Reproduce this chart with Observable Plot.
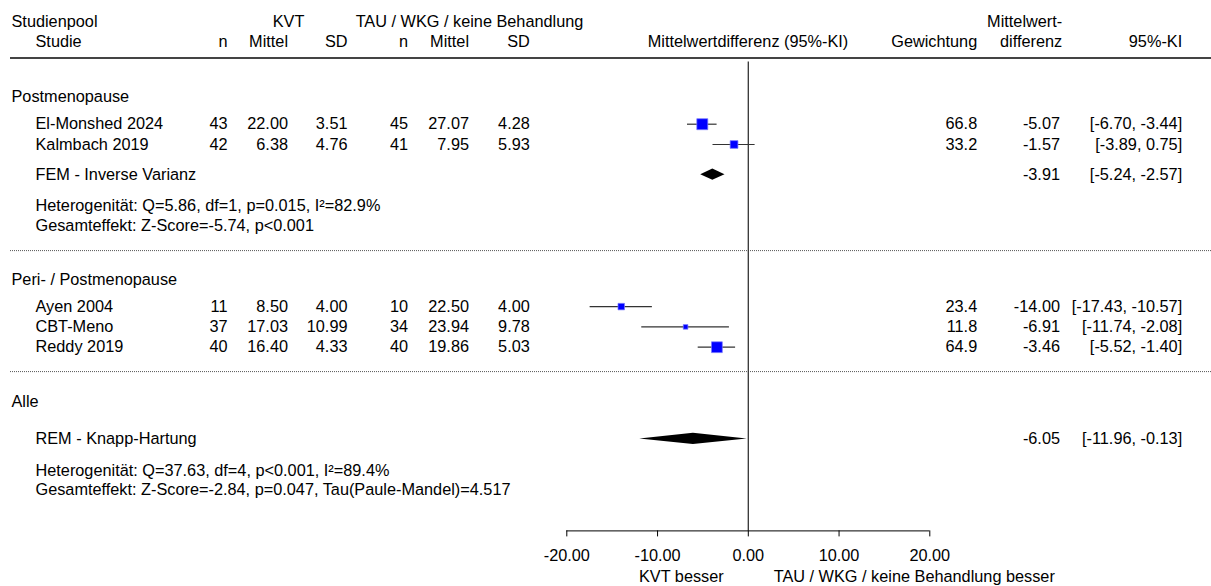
<!DOCTYPE html>
<html><head><meta charset="utf-8">
<script src="https://cdn.jsdelivr.net/npm/d3@7"></script>
<script src="https://cdn.jsdelivr.net/npm/@observablehq/plot@0.6"></script>
<style>html,body{margin:0;padding:0;background:#fff}</style>
</head><body><div id="chart"></div>
<script>
// ---------- data ----------
const groupNames = ["Postmenopause", "Peri- / Postmenopause"];
const studies = ["El-Monshed 2024", "Kalmbach 2019", "Ayen 2004", "CBT-Meno", "Reddy 2019"];
const studyGroup = [0, 0, 1, 1, 1];
const n1 = [43, 42, 11, 37, 40];
const mean1 = [22.00, 6.38, 8.50, 17.03, 16.40];
const sd1 = [3.51, 4.76, 4.00, 10.99, 4.33];
const n2 = [45, 41, 10, 34, 40];
const mean2 = [27.07, 7.95, 22.50, 23.94, 19.86];
const sd2 = [4.28, 5.93, 4.00, 9.78, 5.03];
const weight = [66.8, 33.2, 23.4, 11.8, 64.9];
const md = [-5.07, -1.57, -14.00, -6.91, -3.46];
const ciLow = [-6.70, -3.89, -17.43, -11.74, -5.52];
const ciHigh = [-3.44, 0.75, -10.57, -2.08, -1.40];

const pooledLabels = ["FEM - Inverse Varianz", "REM - Knapp-Hartung"];
const pooledMD = [-3.91, -6.05];
const pooledLow = [-5.24, -11.96];
const pooledHigh = [-2.57, -0.13];
const hetLines = [
  ["Heterogenität: Q=5.86, df=1, p=0.015, I²=82.9%", "Gesamteffekt: Z-Score=-5.74, p<0.001"],
  ["Heterogenität: Q=37.63, df=4, p<0.001, I²=89.4%", "Gesamteffekt: Z-Score=-2.84, p=0.047, Tau(Paule-Mandel)=4.517"]
];
const overallLabel = "Alle";
const xTicks = [-20, -10, 0, 10, 20];
const favourLeft = "KVT besser";
const favourRight = "TAU / WKG / keine Behandlung besser";

// ---------- layout (computed) ----------
const f2 = v => v.toFixed(2);
const rows = [];
const headerY = 57.5;
let cy = 60;
function push(kind, gap, props) { cy += gap; const r = {kind, y: cy, ...props}; rows.push(r); return r; }
groupNames.forEach((g, gi) => {
  push("group", gi === 0 ? 36.7 : 29, {label: g});
  let first = true;
  studies.forEach((s, i) => {
    if (studyGroup[i] !== gi) return;
    push("study", first ? 27 : 20.3, {
      label: s, n1: n1[i], m1: f2(mean1[i]), s1: f2(sd1[i]), n2: n2[i], m2: f2(mean2[i]), s2: f2(sd2[i]),
      w: weight[i], wt: weight[i].toFixed(1), md: md[i], lo: ciLow[i], hi: ciHigh[i],
      mdt: f2(md[i]), ci: `[${f2(ciLow[i])}, ${f2(ciHigh[i])}]`
    });
    first = false;
  });
  if (gi === 0) {
    push("pooled", 30.2, {label: pooledLabels[0], md: pooledMD[0], lo: pooledLow[0], hi: pooledHigh[0],
      mdt: f2(pooledMD[0]), ci: `[${f2(pooledLow[0])}, ${f2(pooledHigh[0])}]`});
    push("het", 31.5, {label: hetLines[0][0]});
    push("het", 20, {label: hetLines[0][1]});
  }
  push("sep", 24.4, {});
});
push("group", 30.5, {label: overallLabel});
push("pooled", 36.8, {label: pooledLabels[1], md: pooledMD[1], lo: pooledLow[1], hi: pooledHigh[1],
  mdt: f2(pooledMD[1]), ci: `[${f2(pooledLow[1])}, ${f2(pooledHigh[1])}]`});
push("het", 31.7, {label: hetLines[1][0]});
push("het", 19.5, {label: hetLines[1][1]});
const axisY = cy + 40.8;

const studyRows = rows.filter(r => r.kind === "study");
const pooledRows = rows.filter(r => r.kind === "pooled");
const sepRows = rows.filter(r => r.kind === "sep");
const groupRows = rows.filter(r => r.kind === "group");
const hetRows = rows.filter(r => r.kind === "het");

const dh = 5.6;
const diamonds = pooledRows.flatMap((r, k) => [
  {id: k, y: r.y - dh, x1: r.md, x2: r.md},
  {id: k, y: r.y, x1: r.lo, x2: r.hi},
  {id: k, y: r.y + dh, x1: r.md, x2: r.md}
]);

const ML = 10;
const FS = 16.3;
const font = "'Liberation Sans', Arial, Helvetica, sans-serif";
function col(data, text, px, anchor, extra = {}) {
  return Plot.text(data, {y: "y", text, frameAnchor: "left", dx: px - ML, textAnchor: anchor,
    fontSize: FS, fill: "#000", ...extra});
}
function head(label, px, y, anchor) {
  return Plot.text([label], {y: () => y, text: d => d, frameAnchor: "left", dx: px - ML,
    textAnchor: anchor, fontSize: FS, fill: "#000"});
}
const r1 = 21.2, r2 = 41.2;
const cN1 = 227, cM1 = 287.5, cS1 = 347, cN2 = 407.5, cM2 = 468.5, cS2 = 529.3;
const cW = 976.7, cMD = 1059.5, cCI = 1181.7;

const chart = Plot.plot({
  width: 1211, height: 586,
  marginLeft: ML, marginRight: 0, marginTop: 0, marginBottom: 0,
  style: {fontFamily: font, fontSize: FS + "px", background: "#fff", overflow: "visible"},
  x: {domain: [-20, 20], range: [566.3, 929.3], axis: null},
  y: {domain: [0, 586], range: [0, 586], axis: null},
  r: {type: "sqrt", domain: [0, 66.8], range: [0, 6.2]},
  marks: [
    // header
    head("Studienpool", 11, r1, "start"),
    head("KVT", 288, r1, "middle"),
    head("TAU / WKG / keine Behandlung", 469, r1, "middle"),
    head("Mittelwert-", 1061.7, r1, "end"),
    head("Studie", 35, r2, "start"),
    head("n", cN1, r2, "end"),
    head("Mittel", cM1, r2, "end"),
    head("SD", cS1, r2, "end"),
    head("n", cN2, r2, "end"),
    head("Mittel", cM2, r2, "end"),
    head("SD", cS2, r2, "end"),
    head("Mittelwertdifferenz (95%-KI)", 747.5, r2, "middle"),
    head("Gewichtung", cW, r2, "end"),
    head("differenz", 1061.7, r2, "end"),
    head("95%-KI", cCI, r2, "end"),
    Plot.ruleY([headerY], {y: d => d, stroke: "#444", strokeWidth: 2}),
    // separators
    Plot.ruleY(sepRows, {y: "y", stroke: "#555", strokeWidth: 1, strokeDasharray: "1,1"}),
    // zero line
    Plot.ruleX([0], {x: d => d, y1: () => 61.5, y2: () => axisY, stroke: "#333", strokeWidth: 1.3}),
    // left table
    col(groupRows, "label", 11, "start"),
    col(studyRows, "label", 35, "start"),
    col(studyRows, "n1", cN1, "end"),
    col(studyRows, "m1", cM1, "end"),
    col(studyRows, "s1", cS1, "end"),
    col(studyRows, "n2", cN2, "end"),
    col(studyRows, "m2", cM2, "end"),
    col(studyRows, "s2", cS2, "end"),
    col(pooledRows, "label", 35, "start"),
    col(hetRows, "label", 35, "start"),
    // right table
    col(studyRows, "wt", cW, "end"),
    col(studyRows, "mdt", cMD, "end"),
    col(studyRows, "ci", cCI, "end"),
    col(pooledRows, "mdt", cMD, "end"),
    col(pooledRows, "ci", cCI, "end"),
    // forest marks
    Plot.ruleY(studyRows, {y: "y", x1: "lo", x2: "hi", stroke: "#333", strokeWidth: 1.2}),
    Plot.dot(studyRows, {x: "md", y: "y", r: "w", symbol: "square", fill: "#0000ff", stroke: "#7a7aff", strokeWidth: 0.7}),
    Plot.areaX(diamonds, {y: "y", x1: "x1", x2: "x2", z: "id", fill: "#000", curve: "linear"}),
    // axis
    Plot.ruleY([axisY], {y: d => d, x1: () => -20, x2: () => 20, stroke: "#000", strokeWidth: 1}),
    Plot.ruleX(xTicks, {x: d => d, y1: () => axisY, y2: () => axisY + 6, stroke: "#000", strokeWidth: 1}),
    Plot.text(xTicks, {x: d => d, y: () => axisY + 25, text: d => d.toFixed(2), fontSize: FS, fill: "#000"}),
    Plot.text([favourLeft], {x: () => 0, y: () => axisY + 46, text: d => d, textAnchor: "end", dx: -24.6, fontSize: FS, fill: "#000"}),
    Plot.text([favourRight], {x: () => 0, y: () => axisY + 46, text: d => d, textAnchor: "start", dx: 25.4, fontSize: FS, fill: "#000"})
  ]
});
document.getElementById("chart").appendChild(chart);
</script>
</body></html>
